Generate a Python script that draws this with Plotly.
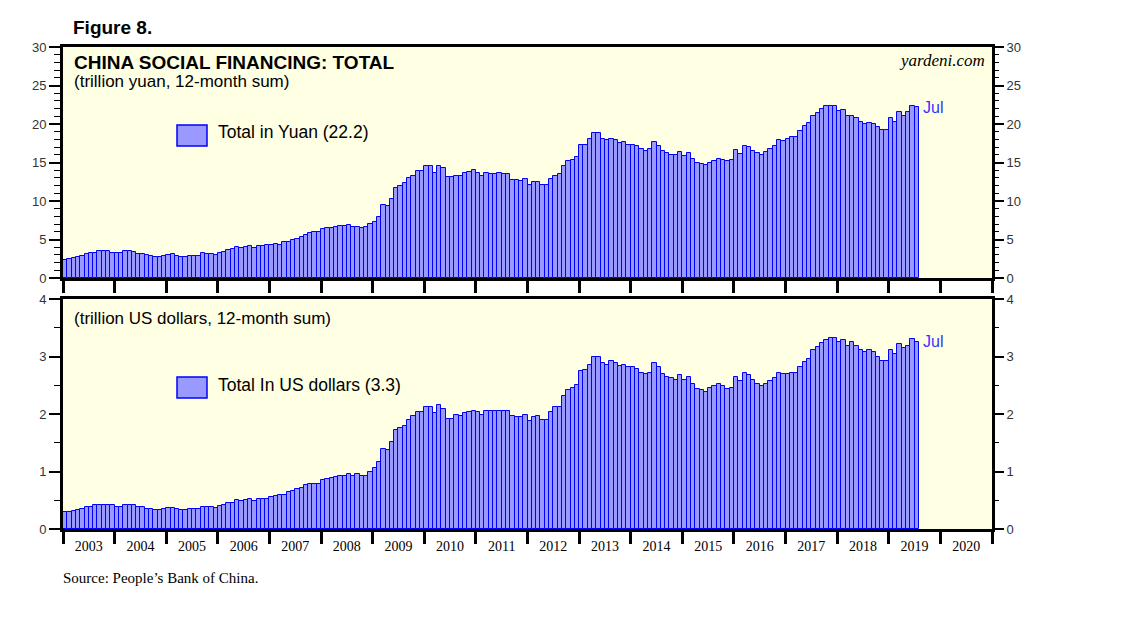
import plotly.graph_objects as go

start_year = 2003
end_year = 2021
year_labels = [str(y) for y in range(2003, 2021)]
month_names = ["Jan", "Feb", "Mar", "Apr", "May", "Jun", "Jul", "Aug", "Sep", "Oct", "Nov", "Dec"]

# China social financing, 12-month sum, trillion yuan (Jan 2003 .. Jul 2019)
yuan = [
    2.34, 2.47, 2.60, 2.73, 2.90, 3.10, 3.29, 3.29, 3.46, 3.46, 3.46, 3.29,
    3.20, 3.20, 3.46, 3.46, 3.33, 3.07, 3.07, 2.94, 2.81, 2.68, 2.68, 2.86,
    2.99, 3.12, 2.81, 2.68, 2.68, 2.81, 2.81, 2.81, 3.20, 3.12, 3.07, 2.99,
    3.25, 3.38, 3.64, 3.77, 3.98, 3.90, 3.98, 4.11, 3.90, 4.11, 4.11, 4.24,
    4.24, 4.37, 4.24, 4.63, 4.63, 4.94, 5.06, 5.32, 5.58, 5.84, 5.93, 5.93,
    6.32, 6.45, 6.45, 6.58, 6.71, 6.71, 6.84, 6.58, 6.58, 6.45, 6.58, 7.00,
    7.23, 7.88, 9.44, 9.31, 10.22, 11.65, 11.90, 12.29, 12.94, 13.30, 13.85, 13.85,
    14.50, 14.50, 13.60, 14.60, 14.24, 13.07, 13.07, 13.30, 13.30, 13.60, 13.72, 13.98,
    13.60, 13.20, 13.60, 13.46, 13.46, 13.60, 13.46, 13.46, 12.69, 12.69, 12.55, 12.80,
    12.03, 12.42, 12.42, 12.03, 12.03, 12.80, 13.30, 13.46, 14.60, 15.15, 15.28, 15.67,
    17.23, 17.23, 18.00, 18.80, 18.80, 18.00, 17.90, 18.10, 17.90, 17.50, 17.60, 17.23,
    17.23, 17.10, 16.70, 16.45, 16.70, 17.60, 17.10, 16.45, 16.20, 15.93, 15.93, 16.30,
    15.80, 16.20, 15.41, 14.90, 14.76, 14.63, 15.00, 15.15, 15.41, 15.28, 15.15, 15.28,
    16.58, 16.06, 17.20, 16.97, 16.45, 16.20, 15.93, 16.32, 16.71, 17.10, 17.88, 17.75,
    18.00, 18.27, 18.27, 19.05, 19.70, 20.10, 21.10, 21.39, 21.90, 22.30, 22.30, 22.30,
    21.65, 21.78, 21.00, 21.10, 20.74, 20.22, 19.96, 20.10, 19.96, 19.57, 19.18, 19.18,
    20.74, 20.22, 21.50, 21.10, 21.50, 22.30, 22.20,
]

# Same, trillion US dollars
usd = [
    0.29, 0.29, 0.31, 0.33, 0.34, 0.38, 0.38, 0.41, 0.41, 0.41, 0.41, 0.41,
    0.39, 0.39, 0.41, 0.41, 0.41, 0.38, 0.38, 0.34, 0.34, 0.33, 0.33, 0.34,
    0.36, 0.36, 0.34, 0.33, 0.33, 0.34, 0.34, 0.34, 0.39, 0.38, 0.38, 0.36,
    0.40, 0.42, 0.45, 0.46, 0.50, 0.48, 0.50, 0.52, 0.48, 0.52, 0.52, 0.53,
    0.55, 0.57, 0.59, 0.59, 0.64, 0.66, 0.69, 0.72, 0.76, 0.78, 0.78, 0.78,
    0.85, 0.87, 0.88, 0.90, 0.93, 0.93, 0.95, 0.93, 0.95, 0.92, 0.93, 1.00,
    1.06, 1.16, 1.39, 1.37, 1.51, 1.72, 1.75, 1.80, 1.89, 1.96, 2.03, 2.03,
    2.13, 2.13, 2.01, 2.15, 2.08, 1.92, 1.92, 1.98, 1.96, 2.01, 2.03, 2.06,
    2.03, 1.98, 2.05, 2.05, 2.05, 2.06, 2.05, 2.05, 1.96, 1.94, 1.94, 1.98,
    1.87, 1.94, 1.96, 1.90, 1.90, 2.03, 2.12, 2.13, 2.32, 2.41, 2.45, 2.50,
    2.74, 2.76, 2.86, 2.99, 3.00, 2.88, 2.86, 2.92, 2.88, 2.83, 2.85, 2.81,
    2.81, 2.79, 2.72, 2.69, 2.72, 2.88, 2.81, 2.69, 2.65, 2.62, 2.60, 2.67,
    2.59, 2.65, 2.52, 2.43, 2.42, 2.39, 2.46, 2.48, 2.52, 2.48, 2.44, 2.46,
    2.65, 2.57, 2.72, 2.67, 2.59, 2.53, 2.48, 2.53, 2.57, 2.62, 2.72, 2.69,
    2.69, 2.72, 2.71, 2.81, 2.90, 2.95, 3.11, 3.16, 3.23, 3.28, 3.32, 3.32,
    3.25, 3.28, 3.18, 3.25, 3.19, 3.12, 3.07, 3.11, 3.07, 3.00, 2.93, 2.92,
    3.12, 3.04, 3.21, 3.14, 3.19, 3.30, 3.26,
]

n = len(yuan)
xs = [start_year + (i + 0.5) / 12 for i in range(n)]
x_end = start_year + n / 12
last_month = month_names[(n - 1) % 12]
year_bounds = list(range(start_year, end_year + 1))
year_mids = [y + 0.5 for y in range(start_year, end_year)]

BAR_FILL = "#9999FF"
BAR_EDGE = "#0000FF"
SANS = "Liberation Sans, Arial, sans-serif"
SERIF = "Liberation Serif, Times New Roman, serif"

fig = go.Figure()
bar_style = dict(width=1 / 12, marker=dict(color=BAR_FILL, line=dict(color=BAR_EDGE, width=1)),
                 showlegend=False, hoverinfo="x+y")
fig.add_trace(go.Bar(x=xs, y=yuan, xaxis="x", yaxis="y", **bar_style))
fig.add_trace(go.Bar(x=xs, y=usd, xaxis="x2", yaxis="y2", **bar_style))
# empty traces to register overlay axes
fig.add_trace(go.Scatter(x=[], y=[], xaxis="x", yaxis="y3", showlegend=False))
fig.add_trace(go.Scatter(x=[], y=[], xaxis="x2", yaxis="y4", showlegend=False))
fig.add_trace(go.Scatter(x=[], y=[], xaxis="x3", yaxis="y2", showlegend=False))

# page has an 8px body margin, so the figure is drawn 8px in from the window edge
W, H = 1130, 613
L, R, T, B = 55, 146, 39, 92
pw, ph = W - L - R, H - T - B


def px(x):
    return (x - 8 - L) / pw


def py(y):
    return (H - B - (y - 8)) / ph


top_dom = [py(278), 1]
bot_dom = [0, py(299)]

xcommon = dict(range=[start_year, end_year], tickmode="array", tickvals=year_bounds,
               ticks="outside", ticklen=12, tickwidth=2.5, tickcolor="black",
               showticklabels=False, showline=True, linewidth=3, linecolor="black",
               mirror=True, showgrid=False, zeroline=False, fixedrange=True)


def ycommon(rng, dtick, minor_dtick, side="left", overlay=None, line=True):
    d = dict(range=rng, tickmode="linear", tick0=0, dtick=dtick, ticks="outside",
             ticklen=11, tickwidth=1.5, tickcolor="black",
             minor=dict(tickmode="linear", tick0=0, dtick=minor_dtick, ticks="outside",
                        ticklen=6, tickwidth=1, tickcolor="black"),
             showgrid=False, zeroline=False, side=side,
             tickfont=dict(family=SANS, size=13, color="#333333"), fixedrange=True)
    if line:
        d.update(showline=True, linewidth=3, linecolor="black", mirror=True)
    else:
        d.update(showline=False)
    if overlay:
        d["overlaying"] = overlay
    return d


layout = dict(
    width=W, height=H,
    margin=dict(l=L, r=R, t=T, b=B),
    paper_bgcolor="white",
    plot_bgcolor="#FFFFE4",
    bargap=0,
    showlegend=False,
    xaxis=dict(anchor="y", domain=[0, 1], **xcommon),
    xaxis2=dict(anchor="y2", domain=[0, 1], **xcommon),
    xaxis3=dict(anchor="y2", overlaying="x2", range=[start_year, end_year], tickmode="array",
                tickvals=year_mids, ticktext=year_labels, ticks="outside", ticklen=4,
                tickcolor="rgba(0,0,0,0)", showline=False, showgrid=False, zeroline=False,
                tickfont=dict(family=SERIF, size=14, color="black"), fixedrange=True),
    yaxis=dict(anchor="x", domain=top_dom, **ycommon([0, 30], 5, 1)),
    yaxis3=dict(anchor="x", **ycommon([0, 30], 5, 1, side="right", overlay="y", line=False)),
    yaxis2=dict(anchor="x2", domain=bot_dom, **ycommon([0, 4], 1, 0.5)),
    yaxis4=dict(anchor="x2", **ycommon([0, 4], 1, 0.5, side="right", overlay="y2", line=False)),
)
fig.update_layout(**layout)


def note(text, x, y, size, family=SANS, xanchor="left", color="black", xref="paper", yref="paper"):
    return dict(text=text, x=x, y=y, xref=xref, yref=yref, xanchor=xanchor, yanchor="middle",
                showarrow=False, font=dict(family=family, size=size, color=color))


ann = [
    note("<b>Figure 8.</b>", px(71), py(28), 19),
    note("<b>CHINA SOCIAL FINANCING: TOTAL</b>", px(72), py(62), 19),
    note("(trillion yuan, 12-month sum)", px(72), py(82), 17),
    note("<i>yardeni.com</i>", px(987), py(60), 17, family=SERIF, xanchor="right"),
    note("(trillion US dollars, 12-month sum)", px(72), py(318), 17),
    note("Total in Yuan (%.1f)" % yuan[-1], px(216), py(132), 17.5),
    note("Total In US dollars (%.1f)" % usd[-1], px(216), py(385), 17.5),
    note(last_month, x_end + 0.05, yuan[-1], 16, color="#3333FF", xref="x", yref="y"),
    note(last_month, x_end + 0.05, usd[-1], 16, color="#3333FF", xref="x2", yref="y2"),
    note("Source: People\u2019s Bank of China.", px(61), py(578), 15, family=SERIF),
]
fig.update_layout(annotations=ann)

shapes = []
for ytop, ybot in [(125, 146), (377, 398)]:
    shapes.append(dict(type="rect", xref="paper", yref="paper", x0=px(177), x1=px(207),
                       y0=py(ybot), y1=py(ytop), fillcolor=BAR_FILL,
                       line=dict(color=BAR_EDGE, width=1.5)))
fig.update_layout(shapes=shapes)

fig.write_html("out.html")
